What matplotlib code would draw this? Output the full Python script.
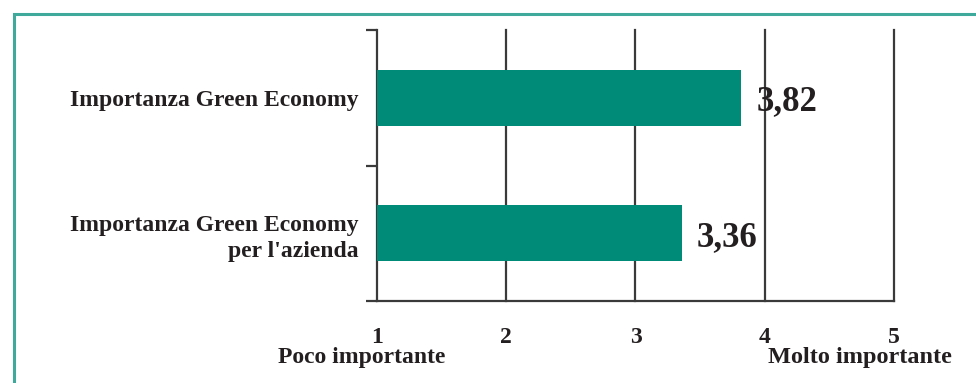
import matplotlib.pyplot as plt
from matplotlib.patches import Rectangle

# Valutazione media (scala 1-5)
categorie = ["Importanza Green Economy", "Importanza Green Economy\nper l'azienda"]
valori = [3.82, 3.36]
etichette_valori = ["3,82", "3,36"]
tacche_x = [1, 2, 3, 4, 5]
estremi = ["Poco importante", "Molto importante"]

verde = "#008B78"
bordo = "#3FA99B"
nero = "#231F20"
font = "Liberation Serif"

fig = plt.figure(figsize=(9.76, 3.83), dpi=100)
fig.patch.set_facecolor("white")

# cornice esterna
fig.patches.append(Rectangle((14 / 976, -0.05), 1.2, (383 - 14) / 383 + 0.05,
                             transform=fig.transFigure, fill=False,
                             edgecolor=bordo, linewidth=2.2))

ax = fig.add_axes([377 / 976, 82 / 383, 517 / 976, 271 / 383])
ypos = [0.5, 1.5]
ax.barh(ypos, [v - 1 for v in valori], left=1, height=0.41, color=verde, zorder=3)
ax.set_xlim(1, 5)
ax.set_ylim(2, 0)

for x in tacche_x[1:]:
    ax.axvline(x, color="#3a3a3a", linewidth=1.6, zorder=2, clip_on=False)

for sp in ["top", "right"]:
    ax.spines[sp].set_visible(False)
for sp in ["left", "bottom"]:
    ax.spines[sp].set_color("#3a3a3a")
    ax.spines[sp].set_linewidth(1.6)

ax.set_yticks([0, 1, 2])
ax.set_yticklabels([])
ax.tick_params(axis="y", which="major", length=8, width=1.6, color="#3a3a3a")
ax.set_yticks(ypos, minor=True)
ax.set_yticklabels(categorie, minor=True, fontfamily=font, fontweight="bold",
                   fontsize=17, color=nero, ha="right", linespacing=1.35)
ax.tick_params(axis="y", which="minor", length=0, pad=13)

ax.set_xticks(tacche_x)
ax.set_xticklabels([str(t) for t in tacche_x], fontfamily=font, fontweight="bold",
                   fontsize=17, color=nero)
ax.tick_params(axis="x", length=0, pad=19)

for y, v, t in zip(ypos, valori, etichette_valori):
    ax.text(v + 0.115, y + 0.03, t, va="center", ha="left", fontfamily=font,
            fontweight="bold", fontsize=25, color=nero, zorder=4)

fig.text(362 / 976, 1 - 358 / 383, estremi[0], ha="center", va="center",
         fontfamily=font, fontweight="bold", fontsize=17, color=nero)
fig.text(860 / 976, 1 - 358 / 383, estremi[1], ha="center", va="center",
         fontfamily=font, fontweight="bold", fontsize=17.5, color=nero)

fig.savefig("out.png", dpi=100)
